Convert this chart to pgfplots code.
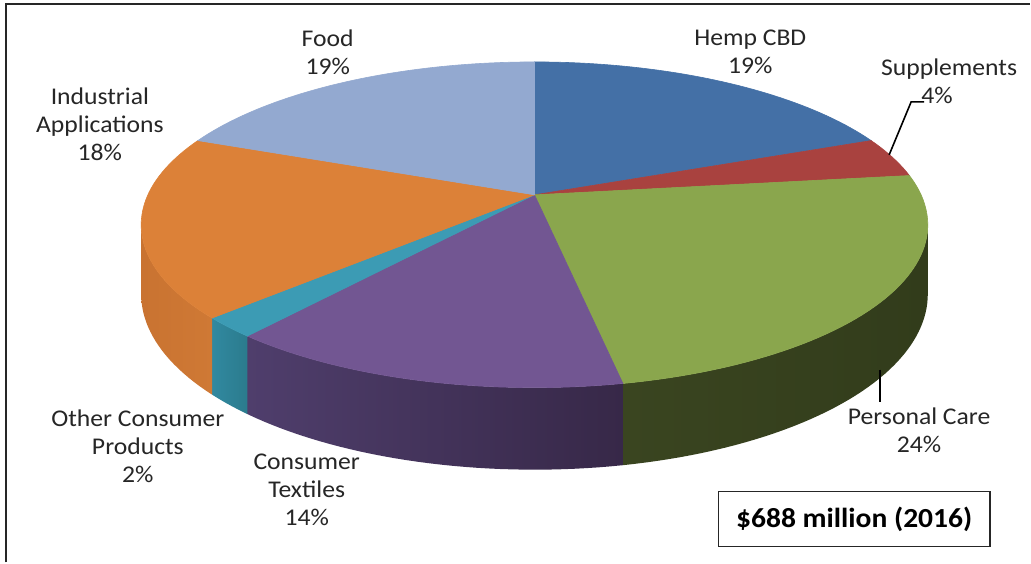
\documentclass[border=0pt]{standalone}
\usepackage{pgfplots}
\pgfplotsset{compat=1.18}
\usepackage{pgfplotstable}
\usepackage{fontspec}
\setmainfont{Carlito}[FakeStretch=1.07]

\definecolor{cHemp}{HTML}{4470A6}
\definecolor{cSupp}{HTML}{A9423F}
\definecolor{cPers}{HTML}{8AA64D}
\definecolor{cText}{HTML}{725692}
\definecolor{cOther}{HTML}{3C9BB4}
\definecolor{cInd}{HTML}{DC8138}
\definecolor{cFood}{HTML}{93A9D0}
% side walls: left and right shade
\definecolor{sPersL}{HTML}{3A4520}\definecolor{sPersR}{HTML}{323C1B}
\definecolor{sTextL}{HTML}{4F3E6C}\definecolor{sTextR}{HTML}{372848}
\definecolor{sOtherL}{HTML}{3189A0}\definecolor{sOtherR}{HTML}{2B7B8D}
\definecolor{sIndL}{HTML}{C97331}\definecolor{sIndR}{HTML}{CF7935}

% share of the 2016 hemp market, clockwise from 12 o'clock
\pgfplotstableread{
name  value top    side
Hemp  19    cHemp  sPers
Supp  4     cSupp  sPers
Pers  24    cPers  sPers
Text  14    cText  sText
Other 2     cOther sOther
Ind   18    cInd   sInd
Food  19    cFood  sInd
}\piedata

% pie geometry in pixels (y down), with a little perspective
\def\cx{535}\def\cy{195}\def\rx{387}\def\ry{157.5}\def\kk{0.184}\def\hh{67}

% append points of the rim from angle #1 to #2; #3=0 top rim, 1 bottom rim
\newcommand\addarc[3]{%
  \pgfmathtruncatemacro\nn{max(2,ceil(abs(#2-#1)/1.5))}%
  \foreach \j in {0,...,\nn}{%
    \pgfmathsetmacro\myt{#1+(#2-#1)*\j/\nn}%
    \pgfmathsetmacro\dd{1+\kk*sin(\myt)}%
    \pgfmathsetmacro\xx{\cx+\rx*cos(\myt)/\dd}%
    \pgfmathsetmacro\yy{\cy+(-\ry*sin(\myt)+#3*\hh)/\dd}%
    \xdef\coords{\coords(\xx,\yy)}%
  }}

\tikzset{lab/.style={align=center, text=black!85, font=\fontsize{12}{14}\selectfont}}

\begin{document}
\begin{tikzpicture}
\begin{axis}[
  scale only axis, width=515.5pt, height=281.5pt,
  xmin=0, xmax=1031, ymin=0, ymax=563, y dir=reverse,
  hide axis, clip=false]

\path[fill=white] (axis cs:0,0) rectangle (axis cs:1031,563);
\draw[black!85, line width=1pt] (axis cs:6,563) -- (axis cs:6,4) -- (axis cs:1031,4);

% side walls of the front slices
\def\angA{90}
\pgfplotsforeachungrouped \i in {0,...,6}{%
  \pgfplotstablegetelem{\i}{value}\of\piedata \let\val\pgfplotsretval
  \pgfplotstablegetelem{\i}{side}\of\piedata \let\sidec\pgfplotsretval
  \pgfmathsetmacro\angB{\angA-3.6*\val}%
  \pgfmathsetmacro\sa{min(\angA,-10.6)}%
  \pgfmathsetmacro\sb{max(\angB,-169.4)}%
  \pgfmathtruncatemacro\vis{\sa>\sb}%
  \ifnum\vis=1
    \gdef\coords{}%
    \addarc{\sa}{\sb}{0}%
    \addarc{\sb}{\sa}{1}%
    \edef\tmp{\noexpand\addplot[left color=\sidec L, right color=\sidec R, draw=none, forget plot] coordinates {\coords} -- cycle;}\tmp
  \fi
  \let\angA\angB
}

% top faces
\def\angA{90}
\pgfplotsforeachungrouped \i in {0,...,6}{%
  \pgfplotstablegetelem{\i}{value}\of\piedata \let\val\pgfplotsretval
  \pgfplotstablegetelem{\i}{top}\of\piedata \let\topc\pgfplotsretval
  \pgfmathsetmacro\angB{\angA-3.6*\val}%
  \xdef\coords{(\cx,\cy)}%
  \addarc{\angA}{\angB}{0}%
  \edef\tmp{\noexpand\addplot[fill=\topc, draw=\topc, line width=0.3pt, forget plot] coordinates {\coords} -- cycle;}\tmp
  \let\angA\angB
}

% leader lines
\draw[black, line width=0.8pt] (axis cs:890,155) -- (axis cs:912,102) -- (axis cs:925,102);
\draw[black, line width=0.8pt] (axis cs:881,370) -- (axis cs:881,402);

% labels
\node[lab] at (axis cs:751,52) {Hemp CBD\\19\%};
\node[lab] at (axis cs:950,81) {Supplements\\\hspace*{-12pt}4\%};
\node[lab] at (axis cs:920,431) {Personal Care\\24\%};
\node[lab] at (axis cs:307,490) {Consumer\\Textiles\\14\%};
\node[lab] at (axis cs:138,447) {Other Consumer\\Products\\2\%};
\node[lab] at (axis cs:100,124) {Industrial\\Applications\\18\%};
\node[lab] at (axis cs:328,52) {Food\\19\%};

\node[draw=black!85, line width=0.6pt, minimum width=136pt, minimum height=27.5pt,
      font=\bfseries\fontsize{13.8}{16}\selectfont] at (axis cs:855,519.5) {\$688 million (2016)};
\end{axis}
\end{tikzpicture}
\end{document}
